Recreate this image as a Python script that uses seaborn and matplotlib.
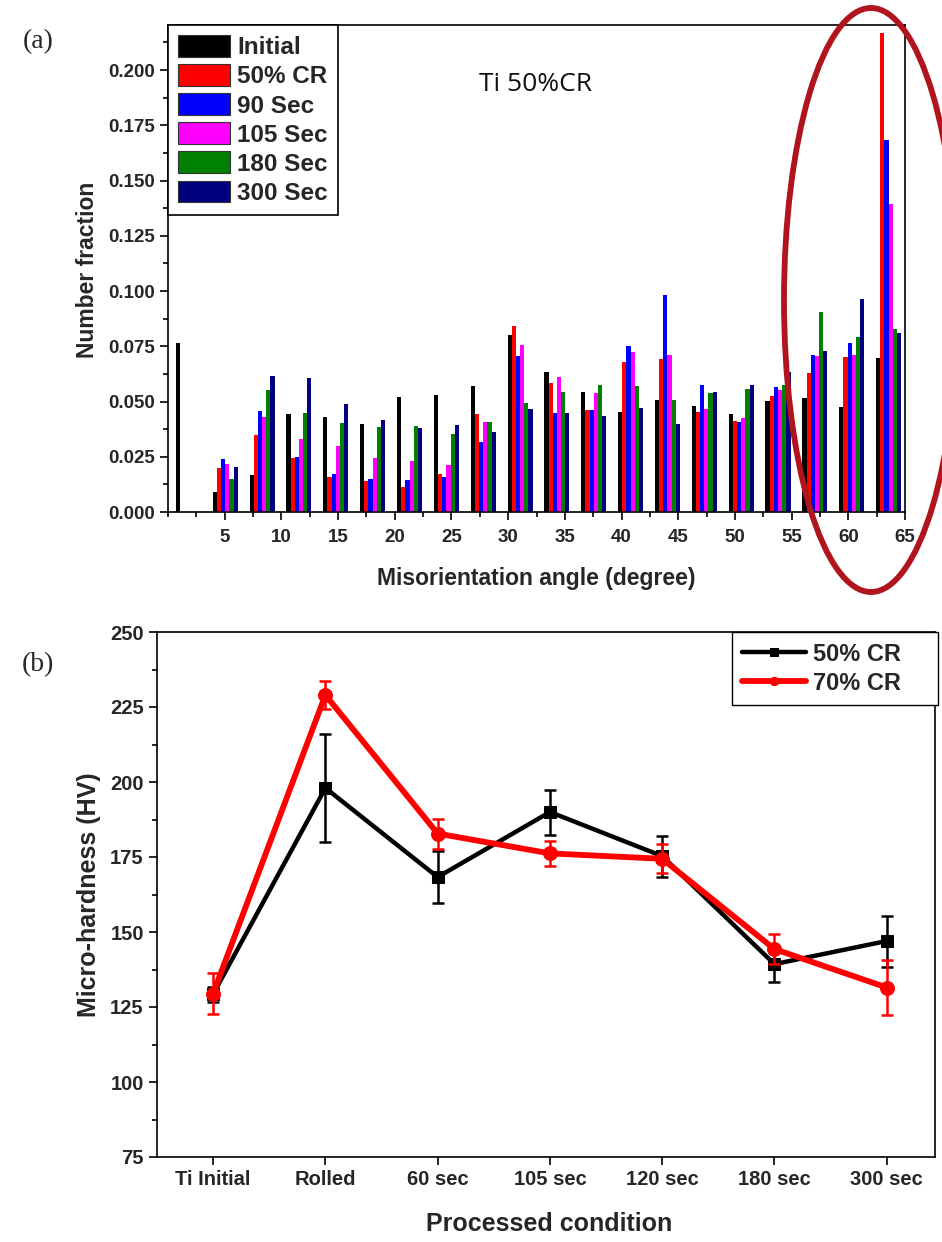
import numpy as np
import pandas as pd
import matplotlib
matplotlib.use("Agg")
import matplotlib.pyplot as plt
import seaborn as sns
from matplotlib.patches import Ellipse
from matplotlib.ticker import MultipleLocator

# ---------------- data: panel (a) ----------------
angles = [1.8, 5.05, 8.3, 11.55, 14.8, 18.05, 21.3, 24.55, 27.8, 31.05,
          34.3, 37.55, 40.8, 44.05, 47.3, 50.55, 53.8, 57.05, 60.3, 63.55]
initial = [0.0766, 0.0090, 0.0167, 0.0442, 0.0431, 0.0398, 0.0519, 0.0528, 0.0569, 0.0800,
           0.0635, 0.0543, 0.0454, 0.0507, 0.0481, 0.0443, 0.0504, 0.0516, 0.0475, 0.0695]
cr50 = [0.0, 0.0200, 0.0347, 0.0243, 0.0160, 0.0139, 0.0112, 0.0172, 0.0442, 0.0840,
        0.0584, 0.0460, 0.0679, 0.0693, 0.0452, 0.0414, 0.0527, 0.0628, 0.0700, 0.2168]
sec90 = [0.0, 0.0240, 0.0457, 0.0247, 0.0172, 0.0148, 0.0145, 0.0160, 0.0317, 0.0704,
         0.0448, 0.0463, 0.0750, 0.0982, 0.0573, 0.0409, 0.0565, 0.0712, 0.0763, 0.1684]
sec105 = [0.0, 0.0216, 0.0428, 0.0329, 0.0297, 0.0243, 0.0232, 0.0211, 0.0406, 0.0757,
          0.0610, 0.0538, 0.0723, 0.0710, 0.0466, 0.0425, 0.0554, 0.0707, 0.0712, 0.1394]
sec180 = [0.0, 0.0148, 0.0551, 0.0447, 0.0403, 0.0385, 0.0390, 0.0353, 0.0406, 0.0492,
          0.0543, 0.0576, 0.0569, 0.0505, 0.0539, 0.0557, 0.0577, 0.0906, 0.0791, 0.0826]
sec300 = [0.0, 0.0202, 0.0615, 0.0605, 0.0490, 0.0418, 0.0380, 0.0395, 0.0363, 0.0468,
          0.0449, 0.0433, 0.0472, 0.0399, 0.0542, 0.0577, 0.0635, 0.0730, 0.0965, 0.0811]
series_names = ["Initial", "50% CR", "90 Sec", "105 Sec", "180 Sec", "300 Sec"]
series_colors = ["#000000", "#ff0000", "#0000ff", "#ff00ff", "#008000", "#000080"]

# ---------------- data: panel (b) ----------------
conditions = ["Ti Initial", "Rolled", "60 sec", "105 sec", "120 sec", "180 sec", "300 sec"]
hv50 = [129.3, 198.0, 168.3, 190.0, 175.3, 139.3, 147.0]
err50 = [2.5, 18.0, 8.6, 7.5, 6.8, 6.0, 8.5]
hv70 = [129.5, 229.0, 182.8, 176.2, 174.4, 144.3, 131.5]
err70 = [6.8, 4.8, 5.0, 4.2, 4.8, 5.0, 9.3]
legend_b = ["50% CR", "70% CR"]

sns.set_style("ticks")
plt.rcParams["font.family"] = ["Liberation Sans", "DejaVu Sans"]
plt.rcParams["font.weight"] = "bold"

fig = plt.figure(figsize=(9.42, 12.42), dpi=100)

# ================= panel (a) =================
ax = fig.add_axes([168/942, 1-512/1242, 737/942, 487/1242])
series_vals = [initial, cr50, sec90, sec105, sec180, sec300]
rows = []
for name, vals in zip(series_names, series_vals):
    for a, v in zip(angles, vals):
        rows.append({"angle": a, "fraction": v, "series": name})
df = pd.DataFrame(rows)
sns.barplot(data=df, x="angle", y="fraction", hue="series", hue_order=series_names,
            palette=series_colors, native_scale=True, width=0.68, linewidth=0,
            saturation=1, errorbar=None, ax=ax)
ax.set_xlim(0, 65)
ax.set_ylim(0, 0.2204)
ax.xaxis.set_major_locator(MultipleLocator(5))
ax.xaxis.set_minor_locator(MultipleLocator(2.5))
ax.yaxis.set_major_locator(MultipleLocator(0.025))
ax.yaxis.set_minor_locator(MultipleLocator(0.0125))
ax.set_xticks(np.arange(5, 66, 5))
ax.set_xticklabels([str(v) for v in range(5, 66, 5)])
ax.set_yticks(np.arange(0, 0.2001, 0.025))
ax.set_yticklabels([f"{v:.3f}" for v in np.arange(0, 0.2001, 0.025)])
ax.tick_params(axis="both", which="major", direction="out", length=6, width=1.2,
               labelsize=13.5, color="black")
ax.tick_params(axis="x", which="major", pad=6)
ax.tick_params(axis="both", which="minor", direction="out", length=3.5, width=1.2,
               color="black")
for sp in ax.spines.values():
    sp.set_visible(True)
    sp.set_color("black")
    sp.set_linewidth(1.2)
ax.set_xlabel("Misorientation angle (degree)", fontsize=16.5, fontweight="bold")
ax.set_ylabel("Number fraction", fontsize=16.5, fontweight="bold")
ax.xaxis.set_label_coords(0.5, -0.113)
ax.yaxis.set_label_coords(-0.094, 0.497)
handles, labels = ax.get_legend_handles_labels()
leg = ax.legend(handles, labels, loc="upper left", bbox_to_anchor=(0, 1),
                borderaxespad=0, frameon=True, fancybox=False,
                edgecolor="black", framealpha=1, handlelength=2.15,
                handleheight=1.0, handletextpad=0.28, labelspacing=0.2,
                borderpad=0.42, prop={"weight": "bold", "size": 17.5})
leg.get_frame().set_linewidth(1.2)
for h in leg.legend_handles:
    h.set_edgecolor("#333333")
    h.set_linewidth(0.8)
ax.text(0.498, 0.877, "Ti 50%CR", transform=ax.transAxes, fontsize=19,
        fontweight=500, family=["Open Sans", "DejaVu Sans"], color="#111111",
        ha="center", va="center")

fig.text(38/942, 1-42/1242, "(a)", fontsize=20, fontweight="normal",
         family=["Liberation Serif", "DejaVu Serif"], ha="center", va="center")

ell = Ellipse((871/942, 1-300/1242), 174/942, 584/1242, transform=fig.transFigure,
              fill=False, edgecolor="#b0141c", linewidth=4.2, zorder=10)
fig.add_artist(ell)

# ================= panel (b) =================
ax2 = fig.add_axes([157/942, 1-1157/1242, 778/942, 525/1242])
pos = np.arange(len(conditions))
sns.lineplot(x=pos, y=hv50, color="black", marker="s", markersize=9,
             markeredgecolor="black", linewidth=3.2, label=legend_b[0] + "    ", ax=ax2,
             zorder=3)
sns.lineplot(x=pos, y=hv70, color="#ff0000", marker="o", markersize=10,
             markeredgecolor="#ff0000", linewidth=4.2, label=legend_b[1] + "    ", ax=ax2,
             zorder=4)
ax2.errorbar(pos, hv50, yerr=err50, fmt="none", ecolor="black", elinewidth=1.8,
             capsize=4.5, capthick=1.8, zorder=3)
ax2.errorbar(pos, hv70, yerr=err70, fmt="none", ecolor="#ff0000", elinewidth=1.8,
             capsize=4.5, capthick=1.8, zorder=4)
ax2.set_xlim(-0.5, 6.43)
ax2.set_ylim(75, 250)
ax2.set_xticks(pos)
ax2.set_xticklabels(conditions)
ax2.yaxis.set_major_locator(MultipleLocator(25))
ax2.yaxis.set_minor_locator(MultipleLocator(12.5))
ax2.tick_params(axis="both", which="major", direction="out", length=6, width=1.2,
                labelsize=14.5, color="black")
ax2.tick_params(axis="y", which="minor", direction="out", length=3.5, width=1.2,
                color="black")
for sp in ax2.spines.values():
    sp.set_visible(True)
    sp.set_color("black")
    sp.set_linewidth(1.2)
ax2.set_xlabel("Processed condition", fontsize=18, fontweight="bold")
ax2.set_ylabel("Micro-hardness (HV)", fontsize=18, fontweight="bold")
ax2.xaxis.set_label_coords(0.504, -0.105)
ax2.yaxis.set_label_coords(-0.072, 0.5)
leg2 = ax2.legend(loc="upper right", bbox_to_anchor=(1.004, 1), borderaxespad=0,
                  frameon=True, fancybox=False, edgecolor="black", framealpha=1,
                  handlelength=2.7, handletextpad=0.3, labelspacing=0.25,
                  borderpad=0.45, prop={"weight": "bold", "size": 17})
leg2.get_frame().set_linewidth(1.0)
for ln in leg2.get_lines():
    ln.set_markersize(6)

fig.text(38/942, 1-665/1242, "(b)", fontsize=20, fontweight="normal",
         family=["Liberation Serif", "DejaVu Serif"], ha="center", va="center")

fig.savefig("out.png", dpi=100, facecolor="white")
